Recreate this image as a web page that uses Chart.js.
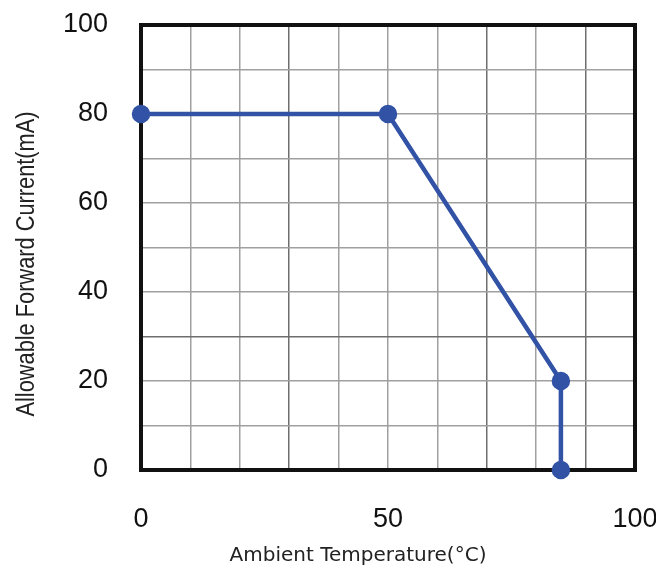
<!DOCTYPE html>
<html lang="en">
  <head>
    <meta charset="UTF-8" />
    <title>Allowable Forward Current</title>
    <style>
      html, body { margin: 0; padding: 0; background: #fff; }
      #wrap { width: 656px; height: 568px; }
    </style>
  </head>
  <body>
    <div id="wrap"><canvas id="myChart" width="656" height="568"></canvas></div>
  </body>
  <script src="https://cdn.jsdelivr.net/npm/chart.js"></script>
  <script>
    // derating curve points (temperature in C, current in mA)
    let temps = [0, 50, 85, 85];
    let currents = [80, 80, 20, 0];
    let xTickLabels = [0, 50, 100];
    let yTickLabels = [0, 20, 40, 60, 80, 100];
    let xTitle = "Ambient Temperature(°C)";
    let yTitle = "Allowable Forward Current(mA)";

    let lineColor = "rgb(50, 82, 166)";

    // scanned grid has a few darker lines
    let darkX = [30, 70, 90];
    let darkY = [30];

    // frame + axis titles
    let framePlugin = {
      id: "frame",
      beforeDatasetsDraw(chart) {
        let a = chart.chartArea;
        let ctx = chart.ctx;
        ctx.save();
        ctx.strokeStyle = "#111";
        ctx.lineWidth = 4;
        ctx.strokeRect(a.left, a.top, a.right - a.left, a.bottom - a.top);
        ctx.restore();
      },
      afterDraw(chart) {
        let ctx = chart.ctx;
        ctx.save();
        ctx.fillStyle = "#222";
        ctx.textAlign = "center";
        ctx.textBaseline = "middle";
        ctx.font = "20px 'DejaVu Sans'";
        ctx.fillText(xTitle, 358, 556, 260);
        ctx.translate(27, 264);
        ctx.rotate(-Math.PI / 2);
        ctx.font = "25px 'Liberation Sans'";
        ctx.fillText(yTitle, 0, 0, 305);
        ctx.restore();
      },
    };

    let points = temps.map((t, i) => ({ x: t, y: currents[i] }));

    var ctx = document.getElementById("myChart").getContext("2d");
    var chart = new Chart(ctx, {
      type: "line",
      data: {
        datasets: [
          {
            data: points,
            borderColor: lineColor,
            backgroundColor: lineColor,
            borderWidth: 4.5,
            pointRadius: 7,
            pointHoverRadius: 7,
            tension: 0,
            clip: false,
          },
        ],
      },
      options: {
        responsive: false,
        animation: false,
        events: [],
        layout: { padding: { top: 25, right: 21, left: 0, bottom: 0 } },
        plugins: {
          legend: { display: false },
          tooltip: { enabled: false },
        },
        scales: {
          x: {
            type: "linear",
            min: 0,
            max: 100,
            border: { display: false },
            grid: {
              drawTicks: false,
              lineWidth: 1.5,
              color: (c) => (darkX.includes(c.tick.value) ? "#6e6e6e" : "#a0a0a0"),
            },
            ticks: {
              stepSize: 10,
              autoSkip: false,
              maxRotation: 0,
              padding: 33,
              color: "#111",
              font: { family: "'Liberation Sans'", size: 27 },
              callback: (v) => (xTickLabels.includes(v) ? String(v) : ""),
            },
            afterFit(scale) {
              scale.height = 98;
              scale.paddingLeft = 0;
              scale.paddingRight = 0;
            },
          },
          y: {
            min: 0,
            max: 100,
            border: { display: false },
            grid: {
              drawTicks: false,
              lineWidth: 1.5,
              color: (c) => (darkY.includes(c.tick.value) ? "#6e6e6e" : "#a0a0a0"),
            },
            ticks: {
              stepSize: 10,
              autoSkip: false,
              padding: 33,
              color: "#111",
              font: { family: "'Liberation Sans'", size: 27 },
              callback: (v) => (yTickLabels.includes(v) ? String(v) : ""),
            },
            afterFit(scale) {
              scale.width = 141;
              scale.paddingTop = 0;
              scale.paddingBottom = 0;
            },
          },
        },
      },
      plugins: [framePlugin],
    });
  </script>
</html>
